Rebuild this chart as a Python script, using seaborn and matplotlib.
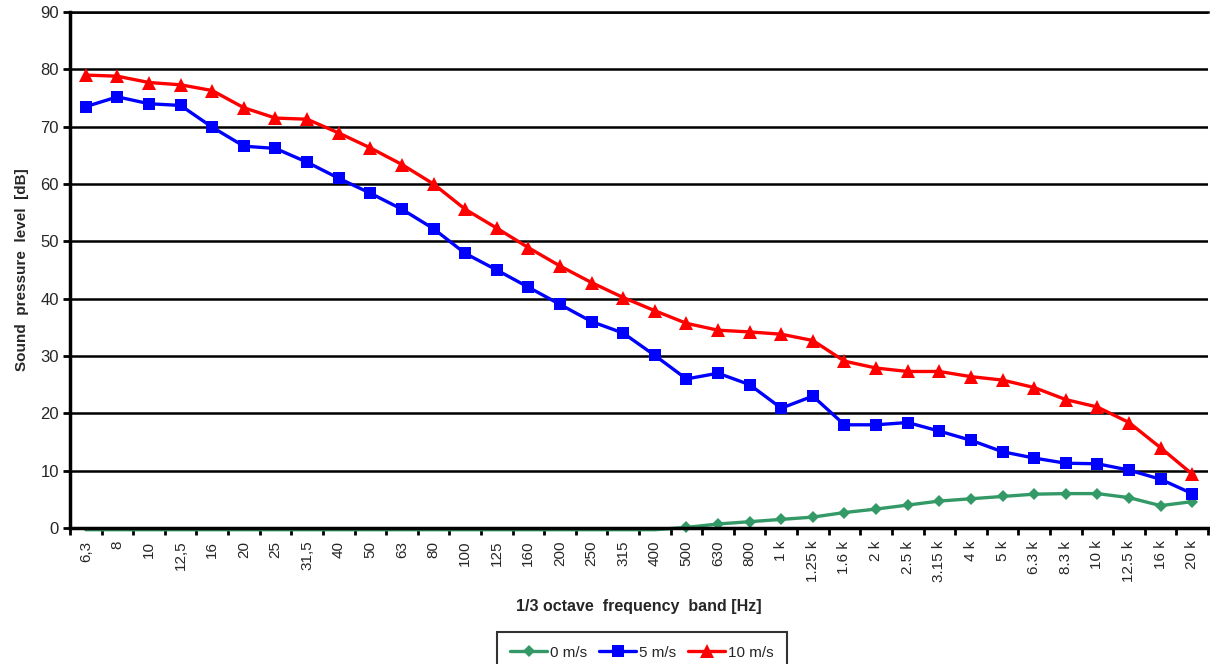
'''
1/3 octave band spectra -> out.png
'''
import numpy as np
import pandas as pd
import matplotlib
matplotlib.use('Agg')
import matplotlib.pyplot as plt
from matplotlib.ticker import FixedLocator
import seaborn as sns

bands = ['6,3', '8', '10', '12,5', '16', '20', '25', '31,5', '40', '50', '63', '80',
         '100', '125', '160', '200', '250', '315', '400', '500', '630', '800',
         '1 k', '1.25 k', '1.6 k', '2 k', '2.5 k', '3.15 k', '4 k', '5 k', '6.3 k',
         '8.3 k', '10 k', '12.5 k', '16 k', '20 k']

# 0 m/s is below the axis (clipped) up to 400 Hz
spl_0 = [-0.3] * 19 + [0.1, 0.7, 1.1, 1.5, 1.9, 2.7, 3.3, 4.0, 4.7, 5.1, 5.5, 5.9,
                       6.0, 6.0, 5.3, 3.9, 4.6]
spl_5 = [73.5, 75.2, 74.0, 73.7, 69.9, 66.6, 66.2, 63.8, 61.0, 58.4, 55.6, 52.2,
         47.9, 45.0, 42.0, 39.0, 36.0, 34.0, 30.1, 26.0, 27.0, 25.0, 20.9, 23.0,
         18.0, 18.0, 18.4, 16.9, 15.3, 13.3, 12.2, 11.3, 11.2, 10.1, 8.5, 6.0]
spl_10 = [79.0, 78.8, 77.7, 77.3, 76.3, 73.3, 71.5, 71.3, 68.9, 66.3, 63.4, 60.0,
          55.6, 52.3, 48.9, 45.7, 42.8, 40.2, 37.9, 35.7, 34.5, 34.2, 33.8, 32.7,
          29.1, 27.9, 27.3, 27.3, 26.4, 25.8, 24.5, 22.4, 21.1, 18.4, 14.0, 9.4]

y_ticks = list(range(0, 91, 10))

sns.set_theme(style='white')
plt.rcParams['font.family'] = ['Liberation Sans', 'DejaVu Sans']

pos = np.arange(len(bands))

fig = plt.figure(figsize=(12.1, 6.64), dpi=100)
ax = fig.add_axes([70/1210, 136/664, 1138/1210, 516/664])

sns.lineplot(x=pos, y=spl_0, color='#339966', lw=2.4, marker='D', markersize=6.5,
             markeredgewidth=0, markevery=[i for i, v in enumerate(spl_0) if v >= 0],
             label='0 m/s', ax=ax, legend=False, clip_on=False)
sns.lineplot(x=pos, y=spl_5, color='#0000FF', lw=2.4, marker='s', markersize=9,
             markeredgewidth=0, label='5 m/s', ax=ax, legend=False)
sns.lineplot(x=pos, y=spl_10, color='#FF0000', lw=2.4, marker='^', markersize=10.5,
             markeredgewidth=0, label='10 m/s', ax=ax, legend=False)

ax.set_xlim(-0.5, len(bands) - 0.5)
ax.set_ylim(0, 90)
ax.set_yticks(y_ticks)
ax.set_yticklabels([str(v) for v in y_ticks], fontsize=12)
ax.set_xticks(pos)
ax.set_xticklabels(bands, rotation=90, fontsize=11)
ax.xaxis.set_minor_locator(FixedLocator(np.arange(-0.5, len(bands), 1.0)))
ax.tick_params(axis='x', which='major', length=0, pad=9)
ax.tick_params(axis='x', which='minor', length=5, width=2, color='black', bottom=True)
ax.tick_params(axis='y', length=5, width=2, color='black', left=True, pad=3)

ax.yaxis.grid(True, color='black', lw=1.8)
ax.xaxis.grid(False)
for s in ['left', 'bottom']:
    ax.spines[s].set_color('black')
    ax.spines[s].set_linewidth(2.5)
ax.spines['right'].set_visible(False)
ax.spines['top'].set_color('black')
ax.spines['top'].set_linewidth(1.8)

ax.set_ylabel('Sound  pressure  level  [dB]', fontsize=11, fontweight='bold', labelpad=8)
ax.set_xlabel('1/3 octave  frequency  band [Hz]', fontsize=11.5, fontweight='bold', labelpad=12)

h, l = ax.get_legend_handles_labels()
leg = fig.legend(h, l, loc='upper center', bbox_to_anchor=(642/1210, 1 - 632/664),
                 ncol=3, fontsize=11, frameon=True, fancybox=False, handlelength=2.4,
                 handletextpad=0.2, columnspacing=0.8, borderpad=0.9, borderaxespad=0)
leg.get_frame().set_edgecolor('black')
leg.get_frame().set_linewidth(1.5)

plt.savefig('out.png', dpi=100)
plt.close('all')
